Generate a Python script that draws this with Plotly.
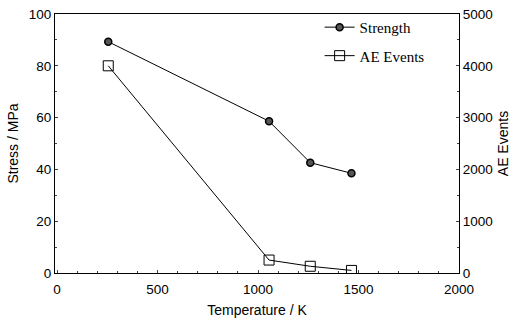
import plotly.graph_objects as go

temperature = [255, 1055, 1260, 1465]
strength = [89.3, 58.6, 42.6, 38.5]
ae_events = [4000, 250, 130, 50]

x_ticks = [0, 500, 1000, 1500, 2000]
y_ticks = [0, 20, 40, 60, 80, 100]
y2_ticks = [0, 1000, 2000, 3000, 4000, 5000]

fig = go.Figure()
fig.add_trace(go.Scatter(
    x=temperature, y=strength, name="Strength", mode="lines+markers",
    line=dict(color="black", width=1),
    marker=dict(symbol="circle", size=7, color="#555555", line=dict(color="black", width=1.5)),
    legendgroup="a",
))
fig.add_trace(go.Scatter(
    x=temperature, y=ae_events, name="AE Events", mode="lines+markers", yaxis="y2",
    line=dict(color="black", width=1),
    marker=dict(symbol="square-open", size=10, color="black", line=dict(width=1)),
    legendgroup="b",
))

tickfont = dict(family="Liberation Sans, Arial, sans-serif", size=13.5, color="black")
titlefont = dict(family="Liberation Sans, Arial, sans-serif", size=14, color="black")

fig.update_layout(
    width=520, height=323,
    margin=dict(l=55, r=61, t=14, b=50, autoexpand=False),
    paper_bgcolor="white", plot_bgcolor="white",
    showlegend=True,
    legend=dict(
        x=0.655, y=1.012, xanchor="left", yanchor="top",
        font=dict(family="Liberation Serif, Times New Roman, serif", size=15, color="black"),
        bgcolor="rgba(0,0,0,0)", traceorder="grouped", tracegroupgap=6,
    ),
    xaxis=dict(
        range=[-10, 2000], tickvals=x_ticks, ticks="inside", ticklen=3,
        showline=True, linecolor="black", linewidth=1.2, mirror=True, automargin=False,
        showgrid=False, zeroline=False, tickfont=tickfont, ticklabelstandoff=4,
        minor=dict(ticks="inside", ticklen=2, dtick=100, showgrid=False),
        title=dict(text="Temperature / K", font=titlefont, standoff=8),
    ),
    yaxis=dict(
        range=[0, 100], tickvals=y_ticks, ticks="inside", ticklen=3,
        showline=True, linecolor="black", linewidth=1.2, automargin=False,
        showgrid=False, zeroline=False, tickfont=tickfont,
        minor=dict(ticks="inside", ticklen=2, dtick=10, showgrid=False),
        title=dict(text="Stress / MPa", font=titlefont, standoff=6),
    ),
    yaxis2=dict(
        range=[0, 5000], tickvals=y2_ticks, ticks="inside", ticklen=3,
        overlaying="y", side="right", automargin=False,
        showline=True, linecolor="black", linewidth=1.2,
        showgrid=False, zeroline=False, tickfont=tickfont,
        minor=dict(ticks="inside", ticklen=2, dtick=500, showgrid=False),
        title=dict(text="AE Events", font=titlefont, standoff=6),
    ),
)

fig.write_html("out.html")
